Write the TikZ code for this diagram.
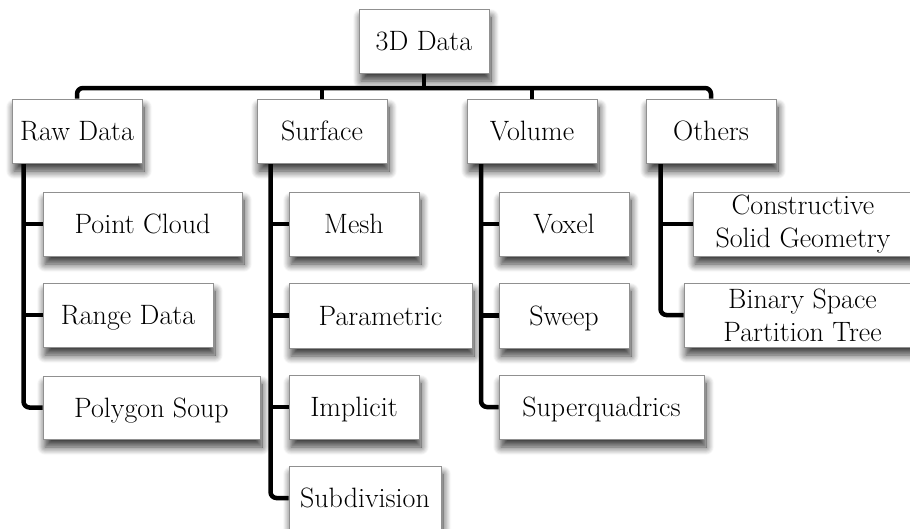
\documentclass[tikz,border=0pt]{standalone}
\usetikzlibrary{shadows.blur,backgrounds}
\definecolor{boxline}{HTML}{909090}
\begin{document}
\begin{tikzpicture}[x=1pt,y=-1pt,
  box/.style={draw=boxline, line width=1pt, fill=white, inner sep=0pt,
    font=\fontsize{28}{33}\selectfont, align=center,
    blur shadow={shadow xshift=2pt, shadow yshift=-8pt, shadow blur radius=8pt,
      shadow opacity=80, shadow blur steps=14}},
  tb/.style={box, text height=19.5pt, text depth=0pt},
  conn/.style={draw=black, line width=4.5pt},
  elbowconn/.style={conn, rounded corners=6pt}]
\useasboundingbox (0,0) rectangle (910,528);
% level 0 and 1
\node[tb, minimum width=130, minimum height=64] (top) at (424,41) {3D Data};
\node[tb, minimum width=130, minimum height=64] (raw) at (77,131) {Raw Data};
\node[tb, minimum width=130, minimum height=64] (surf) at (322,131) {Surface};
\node[tb, minimum width=130, minimum height=64] (vol) at (532,131) {Volume};
\node[tb, minimum width=130, minimum height=64] (oth) at (711,131) {Others};
% raw data children
\node[tb, minimum width=199, minimum height=64] (pc) at (142.5,224) {Point Cloud};
\node[tb, minimum width=170, minimum height=64] (rd) at (128,315) {Range Data};
\node[tb, minimum width=217, minimum height=63] (ps) at (151.5,407.5) {Polygon Soup};
% surface children
\node[tb, minimum width=130, minimum height=64] (mesh) at (354,224) {Mesh};
\node[tb, minimum width=183, minimum height=65] (param) at (380.5,315.5) {Parametric};
\node[tb, minimum width=130, minimum height=64] (impl) at (354,407) {Implicit};
\node[tb, minimum width=152, minimum height=64] (subd) at (365,498) {Subdivision};
% volume children
\node[tb, minimum width=130, minimum height=64] (voxel) at (564,224) {Voxel};
\node[tb, minimum width=130, minimum height=65] (sweep) at (564,315.5) {Sweep};
\node[tb, minimum width=205, minimum height=64] (superq) at (601.5,407) {Superquadrics};
% others children
\node[box, minimum width=220, minimum height=64] (csg) at (803,224) {Constructive\\Solid Geometry};
\node[box, minimum width=237, minimum height=64] (bsp) at (802.5,315) {Binary Space\\Partition Tree};
\coordinate (bus) at (424,88);
\coordinate (rv) at ([xshift=12pt]raw.south west);
\coordinate (sv) at ([xshift=14pt]surf.south west);
\coordinate (vv) at ([xshift=14.5pt]vol.south west);
\coordinate (ov) at ([xshift=15pt]oth.south west);
\begin{scope}[on background layer]
  \draw[elbowconn] (raw.north) |- (bus) -| (oth.north);
  \draw[conn] (top.south) -- (top.south |- bus);
  \draw[conn] (surf.north) -- (surf.north |- bus);
  \draw[conn] (vol.north) -- (vol.north |- bus);
  % raw
  \draw[elbowconn] (rv) |- (ps.west);
  \draw[conn] (rv |- pc.west) -- (pc.west);
  \draw[conn] (rv |- rd.west) -- (rd.west);
  % surface
  \draw[elbowconn] (sv) |- (subd.west);
  \draw[conn] (sv |- mesh.west) -- (mesh.west);
  \draw[conn] (sv |- param.west) -- (param.west);
  \draw[conn] (sv |- impl.west) -- (impl.west);
  % volume
  \draw[elbowconn] (vv) |- (superq.west);
  \draw[conn] (vv |- voxel.west) -- (voxel.west);
  \draw[conn] (vv |- sweep.west) -- (sweep.west);
  % others
  \draw[elbowconn] (ov) |- (bsp.west);
  \draw[conn] (ov |- csg.west) -- (csg.west);
\end{scope}
\end{tikzpicture}
\end{document}
